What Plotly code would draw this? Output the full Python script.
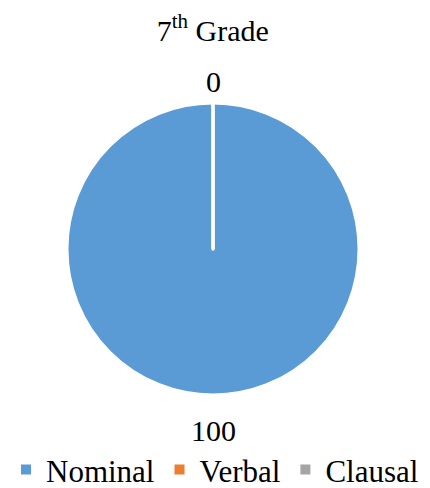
import plotly.graph_objects as go

# data
categories = ["Nominal", "Verbal", "Clausal"]
values = [100, 0, 0]
colors = ["#5B9BD5", "#ED7D31", "#A5A5A5"]
title_text = "7<sup>th</sup> Grade"

FONT = "Liberation Serif"
W, H = 430, 488

# pie placement (paper coords)
cx, cy = 213 / W, 1 - 249 / H
r_x, r_y = 146 / W, 146 / H

fig = go.Figure()
fig.add_trace(go.Pie(
    labels=categories,
    values=values,
    marker=dict(colors=colors, line=dict(color="white", width=3)),
    sort=False,
    direction="clockwise",
    rotation=0,
    textinfo="none",
    showlegend=True,
    domain=dict(x=[cx - r_x, cx + r_x], y=[cy - r_y, cy + r_y]),
    hoverinfo="label+value",
))

# data labels: the full slice below the pie, the zero slices on top
label_font = dict(family=FONT, size=30, color="black")
nonzero = [v for v in values if v > 0]
zeros = [v for v in values if v == 0]
fig.add_annotation(
    x=cx, y=cy - r_y, xref="paper", yref="paper",
    text=str(nonzero[0]), showarrow=False, yanchor="middle", yshift=-36,
    font=label_font,
)
fig.add_annotation(
    x=cx, y=cy + r_y, xref="paper", yref="paper",
    text=str(zeros[0]), showarrow=False, yanchor="middle", yshift=22,
    font=label_font,
)
# slice boundary of the zero-width slices
fig.add_shape(
    type="line", xref="paper", yref="paper",
    x0=cx, x1=cx, y0=cy, y1=cy + r_y,
    line=dict(color="white", width=3),
)

fig.update_layout(
    width=W, height=H,
    margin=dict(l=0, r=0, t=0, b=0, autoexpand=False),
    paper_bgcolor="white",
    plot_bgcolor="white",
    title=dict(text=title_text, x=0.495, xanchor="center", y=0.938, yanchor="middle",
               font=dict(family=FONT, size=30, color="black")),
    legend=dict(orientation="h", x=0.5, xanchor="center", y=0.037, yanchor="middle",
                font=dict(family=FONT, size=31, color="black"),
                itemsizing="constant", traceorder="normal"),
)

fig.write_html("out.html", config={"displayModeBar": False},
               post_script="document.body.style.margin='0';")
